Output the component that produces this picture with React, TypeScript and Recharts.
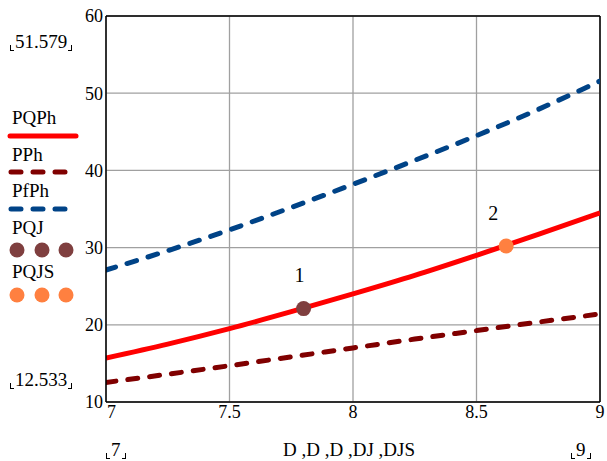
import React from "react";
import {
  ComposedChart,
  Line,
  Scatter,
  XAxis,
  YAxis,
  CartesianGrid,
  ReferenceLine,
  LabelList,
} from "recharts";

// Data
const D = [7, 7.25, 7.5, 7.75, 8, 8.25, 8.5, 8.75, 9];
const PQPh = [15.7, 17.5, 19.5, 21.7, 24.0, 26.4, 29.0, 31.7, 34.5];
const PPh = [12.533, 13.6, 14.7, 15.85, 17.0, 18.15, 19.25, 20.35, 21.4];
const PfPh = [27.1, 29.6, 32.3, 35.2, 38.2, 41.3, 44.5, 47.9, 51.579];
const DJ = [7.8];
const PQJ = [22.1];
const DJS = [8.62];
const PQJS = [30.2];
const xTicks = [7, 7.5, 8, 8.5, 9];
const yTicks = [10, 20, 30, 40, 50, 60];
const legendNames = ["PQPh", "PPh", "PfPh", "PQJ", "PQJS"];
const yMaxLabel = "51.579";
const yMinLabel = "12.533";
const xMinLabel = "7";
const xMaxLabel = "9";
const xAxisTitle = "D ,D ,D ,DJ ,DJS";
const pointLabels = ["1", "2"];

const rows = D.map((d, i) => ({ d, pqph: PQPh[i], pph: PPh[i], pfph: PfPh[i] }));
const pqjRows = DJ.map((d, i) => ({ d, y: PQJ[i], label: pointLabels[0] }));
const pqjsRows = DJS.map((d, i) => ({ d, y: PQJS[i], label: pointLabels[1] }));

const FONT =
  '"Times New Roman", Times, Tinos, "Liberation Serif", "DejaVu Serif", "Noto Serif", FreeSerif, serif';
const RED = "#ff0000";
const DARKRED = "#800000";
const BLUE = "#004387";
const BROWN = "#7f3f3f";
const ORANGE = "#ff8040";
const LW = 5;
const DASH = "10 12";

const Bracketed = ({ text, style }: { text: string; style: React.CSSProperties }) => (
  <div
    style={{
      position: "absolute",
      fontFamily: FONT,
      fontSize: 19,
      color: "#000",
      whiteSpace: "nowrap",
      lineHeight: "20px",
      ...style,
    }}
  >
    <span
      style={{
        display: "inline-block",
        width: 3,
        height: 5,
        borderLeft: "1px solid #000",
        borderBottom: "1px solid #000",
        marginRight: 1,
        verticalAlign: "-3px",
      }}
    />
    {text}
    <span
      style={{
        display: "inline-block",
        width: 3,
        height: 5,
        borderRight: "1px solid #000",
        borderBottom: "1px solid #000",
        marginLeft: 1,
        verticalAlign: "-3px",
      }}
    />
  </div>
);

const XTick = (props: any) => {
  const { x, y, payload } = props;
  const first = payload.value === xTicks[0];
  return (
    <text
      x={first ? x + 1 : x}
      y={y}
      dy="0.71em"
      textAnchor={first ? "start" : "middle"}
      style={{ fontFamily: FONT }}
      fontSize={18}
      fill="#000"
    >
      {payload.value}
    </text>
  );
};

const legendText: React.CSSProperties = {
  position: "absolute",
  left: 12,
  fontFamily: FONT,
  fontSize: 19,
  color: "#000",
  lineHeight: "20px",
};

export default function App() {
  return (
    <div
      style={{
        position: "absolute",
        left: 0,
        top: 0,
        width: 607,
        height: 461,
        background: "#fff",
        fontFamily: FONT,
      }}
    >
      <ComposedChart
        width={607}
        height={461}
        data={rows}
        margin={{ top: 16, right: 7, bottom: 29, left: 0 }}
        style={{ fontFamily: FONT }}
      >
        <CartesianGrid stroke="#a0a0a0" strokeWidth={1.3} />
        <XAxis
          dataKey="d"
          type="number"
          domain={[7, 9]}
          ticks={xTicks}
          height={30}
          tickLine={false}
          tickSize={0}
          tickMargin={3}
          axisLine={{ stroke: "#000", strokeWidth: 1.5 }}
          tick={<XTick />}
          allowDataOverflow
        />
        <YAxis
          type="number"
          domain={[10, 60]}
          ticks={yTicks}
          width={106}
          tickLine={false}
          tickSize={0}
          tickMargin={3}
          axisLine={{ stroke: "#000", strokeWidth: 1.5 }}
          tick={{ style: { fontFamily: FONT }, fontSize: 18, fill: "#000" }}
          allowDataOverflow
        />
        <ReferenceLine y={60} stroke="#000" strokeWidth={1.5} />
        <ReferenceLine x={9} stroke="#000" strokeWidth={1.5} />
        <Line
          dataKey="pph"
          type="monotone"
          stroke={DARKRED}
          strokeWidth={LW}
          strokeDasharray={DASH}
          strokeLinecap="round"
          dot={false}
          isAnimationActive={false}
        />
        <Line
          dataKey="pfph"
          type="monotone"
          stroke={BLUE}
          strokeWidth={LW}
          strokeDasharray={DASH}
          strokeLinecap="round"
          dot={false}
          isAnimationActive={false}
        />
        <Line
          dataKey="pqph"
          type="monotone"
          stroke={RED}
          strokeWidth={LW}
          dot={false}
          isAnimationActive={false}
        />
        <Scatter
          data={pqjRows}
          dataKey="y"
          isAnimationActive={false}
          shape={(p: any) => <circle cx={p.cx} cy={p.cy} r={7.5} fill={BROWN} />}
        >
          <LabelList
            dataKey="label"
            position="top"
            offset={22}
            dx={-4}
            style={{ fontFamily: FONT }}
            fontSize={20}
            fill="#000"
          />
        </Scatter>
        <Scatter
          data={pqjsRows}
          dataKey="y"
          isAnimationActive={false}
          shape={(p: any) => <circle cx={p.cx} cy={p.cy} r={7.5} fill={ORANGE} />}
        >
          <LabelList
            dataKey="label"
            position="top"
            offset={22}
            dx={-13}
            style={{ fontFamily: FONT }}
            fontSize={20}
            fill="#000"
          />
        </Scatter>
      </ComposedChart>

      {/* Left legend */}
      <div style={{ ...legendText, top: 108 }}>{legendNames[0]}</div>
      <svg style={{ position: "absolute", left: 0, top: 0 }} width={100} height={320}>
        <line x1={10} y1={136} x2={76} y2={136} stroke={RED} strokeWidth={LW} strokeLinecap="round" />
        <line x1={11} y1={172} x2={70} y2={172} stroke={DARKRED} strokeWidth={LW} strokeDasharray={DASH} strokeLinecap="round" />
        <line x1={11} y1={209} x2={70} y2={209} stroke={BLUE} strokeWidth={LW} strokeDasharray={DASH} strokeLinecap="round" />
        {[17, 42, 66].map((cx) => (
          <circle key={"a" + cx} cx={cx} cy={250} r={7.5} fill={BROWN} />
        ))}
        {[17, 42, 66].map((cx) => (
          <circle key={"b" + cx} cx={cx} cy={295} r={7.5} fill={ORANGE} />
        ))}
      </svg>
      <div style={{ ...legendText, top: 145 }}>{legendNames[1]}</div>
      <div style={{ ...legendText, top: 181 }}>{legendNames[2]}</div>
      <div style={{ ...legendText, top: 218 }}>{legendNames[3]}</div>
      <div style={{ ...legendText, top: 262 }}>{legendNames[4]}</div>

      <Bracketed text={yMaxLabel} style={{ left: 10, top: 32 }} />
      <Bracketed text={yMinLabel} style={{ left: 10, top: 370 }} />
      <Bracketed text={xMinLabel} style={{ left: 106, top: 440 }} />
      <Bracketed text={xMaxLabel} style={{ left: 571, top: 440 }} />
      <div
        style={{
          position: "absolute",
          left: 283,
          top: 440,
          fontFamily: FONT,
          fontSize: 19,
          lineHeight: "20px",
          color: "#000",
          whiteSpace: "nowrap",
        }}
      >
        {xAxisTitle}
      </div>
    </div>
  );
}
